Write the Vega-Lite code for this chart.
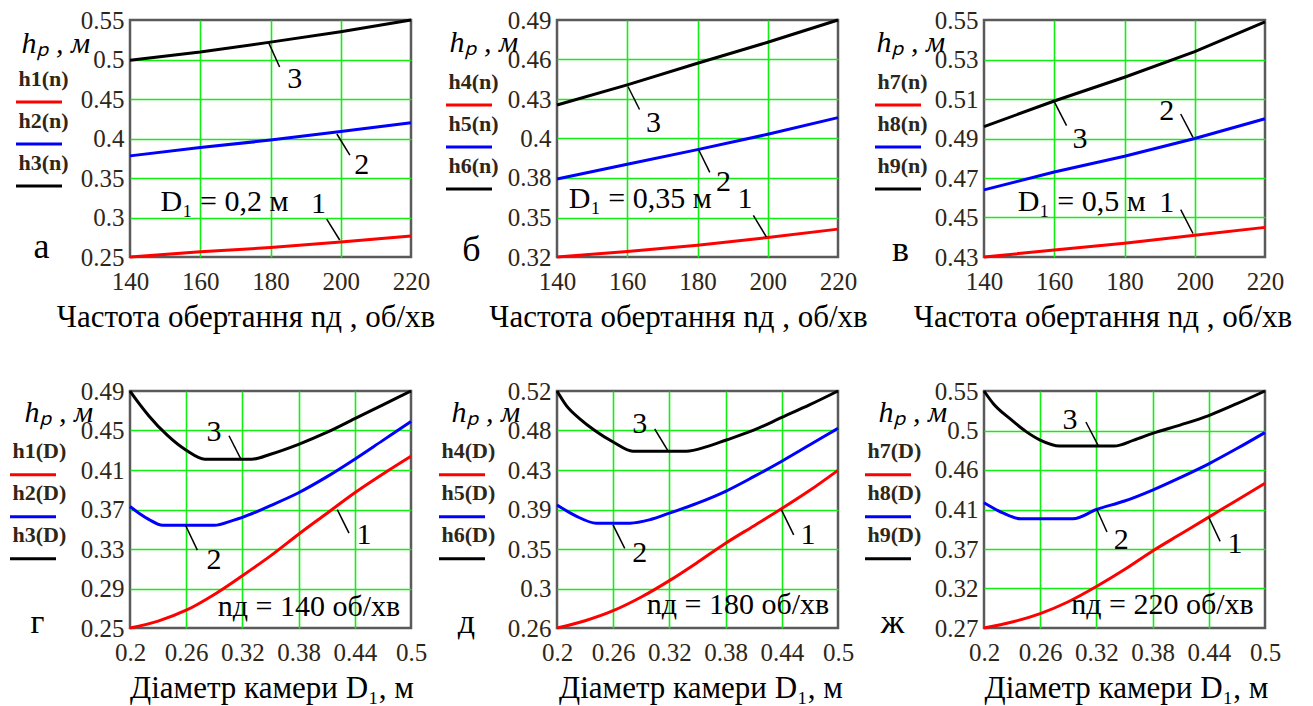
{
  "$schema": "https://vega.github.io/schema/vega-lite/v6.json",
  "background": "white",
  "padding": {"left": 7, "top": 6, "right": 0, "bottom": 0},
  "columns": 3,
  "bounds": "flush",
  "spacing": {"row": 134, "column": 146},
  "resolve": {"scale": {"color": "independent", "x": "independent", "y": "independent"}, "legend": {"color": "independent"}, "axis": {"x": "independent", "y": "independent"}},
  "config": {
    "view": {"stroke": "#5a5a5a", "strokeWidth": 2.5},
    "axis": {"grid": true, "gridColor": "#11ee11", "gridWidth": 1.6, "domain": false, "ticks": false, "tickSize": 0, "labelColor": "#2e2618", "labelFlush": false, "labelOverlap": false, "titleColor": "#000000"},
    "axisX": {"labelPadding": 12, "titleBaseline": "alphabetic", "titleAlign": "center", "titleY": 69},
    "axisY": {"labelPadding": 6, "titleAngle": 0, "titleAlign": "left", "titleBaseline": "alphabetic"},
    "legend": {"orient": "none", "symbolType": "M-1,0.5L1,0.5", "symbolSize": 2116, "symbolStrokeWidth": 3, "labelFont": "Liberation Serif", "labelFontSize": 22, "labelFontWeight": "bold", "labelColor": "#2e2618", "labelOffset": -45, "labelBaseline": "bottom", "rowPadding": 0, "padding": 0, "titleOrient": "bottom", "titleFont": "Liberation Serif", "titleFontSize": 36, "titleFontWeight": "normal", "titleColor": "#000000", "titleAnchor": "middle", "titleAlign": "center", "titlePadding": 38}
  },
  "concat": [
    {
      "width": 281, "height": 237,
      "encoding": {
        "x": {"field": "x", "type": "quantitative", "scale": {"domain": [140, 220], "nice": false, "zero": false},
          "axis": {"values": [140, 160, 180, 200, 220], "title": "Частота обертання  nд , об/хв", "titleX": 115.5,
            "labelFont": "Liberation Serif, serif", "labelFontSize": 25, "titleFont": "Liberation Serif, serif", "titleFontSize": 31, "titleFontWeight": "normal",
            "gridOpacity": {"condition": {"test": "datum.value <= 140 || datum.value >= 220", "value": 0}, "value": 1}}},
        "y": {"field": "y", "type": "quantitative", "scale": {"domain": [0.25, 0.55], "nice": false, "zero": false},
          "axis": {"values": [0.25, 0.3, 0.35, 0.4, 0.45, 0.5, 0.55], "labelExpr": "['0.25','0.3','0.35','0.4','0.45','0.5','0.55'][round((datum.value-0.25)/0.05)]", "title": "hₚ , м", "titleX": -109, "titleY": 32,
            "labelFont": "Liberation Serif, serif", "labelFontSize": 25, "titleFont": "Liberation Serif, serif", "titleFontSize": 30, "titleFontWeight": "normal", "titleFontStyle": "italic",
            "gridOpacity": {"condition": {"test": "datum.value <= 0.2501 || datum.value >= 0.5499", "value": 0}, "value": 1}}}
      },
      "layer": [
        {
          "data": {"values": [
            {"x": 140, "y": 0.25, "s": "h1(n)"}, {"x": 160, "y": 0.2565, "s": "h1(n)"}, {"x": 180, "y": 0.262, "s": "h1(n)"}, {"x": 200, "y": 0.269, "s": "h1(n)"}, {"x": 220, "y": 0.2765, "s": "h1(n)"},
            {"x": 140, "y": 0.378, "s": "h2(n)"}, {"x": 160, "y": 0.3885, "s": "h2(n)"}, {"x": 180, "y": 0.398, "s": "h2(n)"}, {"x": 200, "y": 0.409, "s": "h2(n)"}, {"x": 220, "y": 0.42, "s": "h2(n)"},
            {"x": 140, "y": 0.499, "s": "h3(n)"}, {"x": 160, "y": 0.5095, "s": "h3(n)"}, {"x": 180, "y": 0.522, "s": "h3(n)"}, {"x": 200, "y": 0.535, "s": "h3(n)"}, {"x": 220, "y": 0.55, "s": "h3(n)"}
          ]},
          "mark": {"type": "line", "strokeWidth": 3},
          "encoding": {"color": {"field": "s", "type": "nominal", "scale": {"domain": ["h1(n)", "h2(n)", "h3(n)"], "range": ["#ff0000", "#0000ff", "#000000"]},
            "legend": {"title": "а", "legendX": -115.5, "legendY": 46}}}
        },
        {
          "data": {"values": [
            {"x": 179.4, "y": 0.522, "x2": 182.6, "y2": 0.4905},
            {"x": 198.9, "y": 0.4057, "x2": 202.6, "y2": 0.379},
            {"x": 196, "y": 0.298, "x2": 199.7, "y2": 0.2715}
          ]},
          "mark": {"type": "rule", "strokeWidth": 1.5, "color": "#000000"},
          "encoding": {"x2": {"field": "x2"}, "y2": {"field": "y2"}}
        },
        {
          "data": {"values": [
            {"x": 186.9, "y": 0.475, "t": "3"},
            {"x": 206, "y": 0.3665, "t": "2"},
            {"x": 193.7, "y": 0.317, "t": "1"},
            {"x": 166.9, "y": 0.3196, "t": "D₁ = 0,2 м"}
          ]},
          "mark": {"type": "text", "font": "Liberation Serif", "fontSize": 30, "color": "#000000", "align": "center", "baseline": "middle"},
          "encoding": {"text": {"field": "t"}}
        }
      ]
    },
    {
      "width": 281, "height": 237,
      "encoding": {
        "x": {"field": "x", "type": "quantitative", "scale": {"domain": [140, 220], "nice": false, "zero": false},
          "axis": {"values": [140, 160, 180, 200, 220], "title": "Частота обертання  nд , об/хв", "titleX": 121,
            "labelFont": "Liberation Serif, serif", "labelFontSize": 25, "titleFont": "Liberation Serif, serif", "titleFontSize": 31, "titleFontWeight": "normal",
            "gridOpacity": {"condition": {"test": "datum.value <= 140 || datum.value >= 220", "value": 0}, "value": 1}}},
        "y": {"field": "y", "type": "quantitative", "scale": {"domain": [0.32, 0.49], "nice": false, "zero": false},
          "axis": {"values": [0.32, 0.3483333, 0.3766667, 0.405, 0.4333333, 0.4616667, 0.49], "labelExpr": "['0.32','0.35','0.38','0.4','0.43','0.46','0.49'][round((datum.value-0.32)/0.0283333)]", "title": "hₚ , м", "titleX": -108, "titleY": 31,
            "labelFont": "Liberation Serif, serif", "labelFontSize": 25, "titleFont": "Liberation Serif, serif", "titleFontSize": 30, "titleFontWeight": "normal", "titleFontStyle": "italic",
            "gridOpacity": {"condition": {"test": "datum.value <= 0.3201 || datum.value >= 0.4899", "value": 0}, "value": 1}}}
      },
      "layer": [
        {
          "data": {"values": [
            {"x": 140, "y": 0.32, "s": "h4(n)"}, {"x": 160, "y": 0.324, "s": "h4(n)"}, {"x": 180, "y": 0.3285, "s": "h4(n)"}, {"x": 200, "y": 0.334, "s": "h4(n)"}, {"x": 220, "y": 0.34, "s": "h4(n)"},
            {"x": 140, "y": 0.376, "s": "h5(n)"}, {"x": 160, "y": 0.3865, "s": "h5(n)"}, {"x": 180, "y": 0.397, "s": "h5(n)"}, {"x": 200, "y": 0.408, "s": "h5(n)"}, {"x": 220, "y": 0.42, "s": "h5(n)"},
            {"x": 140, "y": 0.429, "s": "h6(n)"}, {"x": 160, "y": 0.4435, "s": "h6(n)"}, {"x": 180, "y": 0.459, "s": "h6(n)"}, {"x": 200, "y": 0.474, "s": "h6(n)"}, {"x": 220, "y": 0.49, "s": "h6(n)"}
          ]},
          "mark": {"type": "line", "strokeWidth": 3},
          "encoding": {"color": {"field": "s", "type": "nominal", "scale": {"domain": ["h4(n)", "h5(n)", "h6(n)"], "range": ["#ff0000", "#0000ff", "#000000"]},
            "legend": {"title": "б", "legendX": -112.5, "legendY": 49}}}
        },
        {
          "data": {"values": [
            {"x": 160.2, "y": 0.4423, "x2": 163.5, "y2": 0.4258},
            {"x": 180.4, "y": 0.3966, "x2": 183.5, "y2": 0.3807},
            {"x": 195.9, "y": 0.3499, "x2": 199.6, "y2": 0.3344}
          ]},
          "mark": {"type": "rule", "strokeWidth": 1.5, "color": "#000000"},
          "encoding": {"x2": {"field": "x2"}, "y2": {"field": "y2"}}
        },
        {
          "data": {"values": [
            {"x": 167.5, "y": 0.4163, "t": "3"},
            {"x": 187.4, "y": 0.3736, "t": "2"},
            {"x": 193.5, "y": 0.3617, "t": "1"},
            {"x": 163.7, "y": 0.3617, "t": "D₁ = 0,35 м"}
          ]},
          "mark": {"type": "text", "font": "Liberation Serif", "fontSize": 30, "color": "#000000", "align": "center", "baseline": "middle"},
          "encoding": {"text": {"field": "t"}}
        }
      ]
    },
    {
      "width": 281, "height": 237,
      "encoding": {
        "x": {"field": "x", "type": "quantitative", "scale": {"domain": [140, 220], "nice": false, "zero": false},
          "axis": {"values": [140, 160, 180, 200, 220], "title": "Частота обертання  nд , об/хв", "titleX": 118.5,
            "labelFont": "Liberation Serif, serif", "labelFontSize": 25, "titleFont": "Liberation Serif, serif", "titleFontSize": 31, "titleFontWeight": "normal",
            "gridOpacity": {"condition": {"test": "datum.value <= 140 || datum.value >= 220", "value": 0}, "value": 1}}},
        "y": {"field": "y", "type": "quantitative", "scale": {"domain": [0.43, 0.55], "nice": false, "zero": false},
          "axis": {"values": [0.43, 0.45, 0.47, 0.49, 0.51, 0.53, 0.55], "labelExpr": "['0.43','0.45','0.47','0.49','0.51','0.53','0.55'][round((datum.value-0.43)/0.02)]", "title": "hₚ , м", "titleX": -108, "titleY": 31,
            "labelFont": "Liberation Serif, serif", "labelFontSize": 25, "titleFont": "Liberation Serif, serif", "titleFontSize": 30, "titleFontWeight": "normal", "titleFontStyle": "italic",
            "gridOpacity": {"condition": {"test": "datum.value <= 0.4301 || datum.value >= 0.5499", "value": 0}, "value": 1}}}
      },
      "layer": [
        {
          "data": {"values": [
            {"x": 140, "y": 0.43, "s": "h7(n)"}, {"x": 160, "y": 0.4335, "s": "h7(n)"}, {"x": 180, "y": 0.437, "s": "h7(n)"}, {"x": 200, "y": 0.441, "s": "h7(n)"}, {"x": 220, "y": 0.445, "s": "h7(n)"},
            {"x": 140, "y": 0.464, "s": "h8(n)"}, {"x": 160, "y": 0.473, "s": "h8(n)"}, {"x": 180, "y": 0.481, "s": "h8(n)"}, {"x": 200, "y": 0.49, "s": "h8(n)"}, {"x": 220, "y": 0.5, "s": "h8(n)"},
            {"x": 140, "y": 0.496, "s": "h9(n)"}, {"x": 160, "y": 0.509, "s": "h9(n)"}, {"x": 180, "y": 0.521, "s": "h9(n)"}, {"x": 200, "y": 0.534, "s": "h9(n)"}, {"x": 220, "y": 0.549, "s": "h9(n)"}
          ]},
          "mark": {"type": "line", "strokeWidth": 3},
          "encoding": {"color": {"field": "s", "type": "nominal", "scale": {"domain": ["h7(n)", "h8(n)", "h9(n)"], "range": ["#ff0000", "#0000ff", "#000000"]},
            "legend": {"title": "в", "legendX": -110.5, "legendY": 49}}}
        },
        {
          "data": {"values": [
            {"x": 160.1, "y": 0.5083, "x2": 163.5, "y2": 0.4965},
            {"x": 196, "y": 0.5024, "x2": 199.5, "y2": 0.4906},
            {"x": 196, "y": 0.454, "x2": 199.5, "y2": 0.4419}
          ]},
          "mark": {"type": "rule", "strokeWidth": 1.5, "color": "#000000"},
          "encoding": {"x2": {"field": "x2"}, "y2": {"field": "y2"}}
        },
        {
          "data": {"values": [
            {"x": 167.3, "y": 0.4898, "t": "3"},
            {"x": 192, "y": 0.5041, "t": "2"},
            {"x": 192, "y": 0.4571, "t": "1"},
            {"x": 167.8, "y": 0.4579, "t": "D₁ = 0,5 м"}
          ]},
          "mark": {"type": "text", "font": "Liberation Serif", "fontSize": 30, "color": "#000000", "align": "center", "baseline": "middle"},
          "encoding": {"text": {"field": "t"}}
        }
      ]
    },
    {
      "width": 281, "height": 237,
      "encoding": {
        "x": {"field": "x", "type": "quantitative", "scale": {"domain": [0.2, 0.5], "nice": false, "zero": false},
          "axis": {"values": [0.2, 0.26, 0.32, 0.38, 0.44, 0.5], "format": ".2~f", "title": "Діаметр камери  D₁, м", "titleX": 141.5,
            "labelFont": "Liberation Serif, serif", "labelFontSize": 25, "titleFont": "Liberation Serif, serif", "titleFontSize": 31, "titleFontWeight": "normal",
            "gridOpacity": {"condition": {"test": "datum.value <= 0.2001 || datum.value >= 0.4999", "value": 0}, "value": 1}}},
        "y": {"field": "y", "type": "quantitative", "scale": {"domain": [0.25, 0.49], "nice": false, "zero": false},
          "axis": {"values": [0.25, 0.29, 0.33, 0.37, 0.41, 0.45, 0.49], "labelExpr": "['0.25','0.29','0.33','0.37','0.41','0.45','0.49'][round((datum.value-0.25)/0.04)]", "title": "hₚ , м", "titleX": -106, "titleY": 30,
            "labelFont": "Liberation Serif, serif", "labelFontSize": 25, "titleFont": "Liberation Serif, serif", "titleFontSize": 30, "titleFontWeight": "normal", "titleFontStyle": "italic",
            "gridOpacity": {"condition": {"test": "datum.value <= 0.2501 || datum.value >= 0.4899", "value": 0}, "value": 1}}}
      },
      "layer": [
        {
          "data": {"values": [
            {"x": 0.2, "y": 0.25, "s": "h1(D)"}, {"x": 0.23, "y": 0.257, "s": "h1(D)"}, {"x": 0.26, "y": 0.268, "s": "h1(D)"}, {"x": 0.29, "y": 0.284, "s": "h1(D)"}, {"x": 0.32, "y": 0.303, "s": "h1(D)"}, {"x": 0.35, "y": 0.323, "s": "h1(D)"}, {"x": 0.38, "y": 0.345, "s": "h1(D)"}, {"x": 0.41, "y": 0.366, "s": "h1(D)"}, {"x": 0.44, "y": 0.387, "s": "h1(D)"}, {"x": 0.47, "y": 0.406, "s": "h1(D)"}, {"x": 0.5, "y": 0.424, "s": "h1(D)"},
            {"x": 0.2, "y": 0.373, "s": "h2(D)"}, {"x": 0.21, "y": 0.366, "s": "h2(D)"}, {"x": 0.22, "y": 0.36, "s": "h2(D)"}, {"x": 0.235, "y": 0.354, "s": "h2(D)"}, {"x": 0.29, "y": 0.354, "s": "h2(D)"}, {"x": 0.31, "y": 0.359, "s": "h2(D)"}, {"x": 0.32, "y": 0.362, "s": "h2(D)"}, {"x": 0.35, "y": 0.374, "s": "h2(D)"}, {"x": 0.38, "y": 0.387, "s": "h2(D)"}, {"x": 0.41, "y": 0.403, "s": "h2(D)"}, {"x": 0.44, "y": 0.421, "s": "h2(D)"}, {"x": 0.47, "y": 0.44, "s": "h2(D)"}, {"x": 0.5, "y": 0.459, "s": "h2(D)"},
            {"x": 0.2, "y": 0.49, "s": "h3(D)"}, {"x": 0.21, "y": 0.477, "s": "h3(D)"}, {"x": 0.22, "y": 0.465, "s": "h3(D)"}, {"x": 0.24, "y": 0.445, "s": "h3(D)"}, {"x": 0.26, "y": 0.43, "s": "h3(D)"}, {"x": 0.28, "y": 0.421, "s": "h3(D)"}, {"x": 0.33, "y": 0.421, "s": "h3(D)"}, {"x": 0.35, "y": 0.426, "s": "h3(D)"}, {"x": 0.38, "y": 0.436, "s": "h3(D)"}, {"x": 0.41, "y": 0.448, "s": "h3(D)"}, {"x": 0.44, "y": 0.462, "s": "h3(D)"}, {"x": 0.47, "y": 0.476, "s": "h3(D)"}, {"x": 0.5, "y": 0.49, "s": "h3(D)"}
          ]},
          "mark": {"type": "line", "strokeWidth": 3, "interpolate": "monotone"},
          "encoding": {"color": {"field": "s", "type": "nominal", "scale": {"domain": ["h1(D)", "h2(D)", "h3(D)"], "range": ["#ff0000", "#0000ff", "#000000"]},
            "legend": {"title": "г", "legendX": -121.5, "legendY": 47.7, "titleFontSize": 34, "titlePadding": 41}}}
        },
        {
          "data": {"values": [
            {"x": 0.3057, "y": 0.4447, "x2": 0.3188, "y2": 0.4202},
            {"x": 0.2594, "y": 0.3538, "x2": 0.2719, "y2": 0.3289},
            {"x": 0.4213, "y": 0.3698, "x2": 0.4338, "y2": 0.346}
          ]},
          "mark": {"type": "rule", "strokeWidth": 1.5, "color": "#000000"},
          "encoding": {"x2": {"field": "x2"}, "y2": {"field": "y2"}}
        },
        {
          "data": {"values": [
            {"x": 0.2897, "y": 0.4481, "t": "3"},
            {"x": 0.2897, "y": 0.3187, "t": "2"},
            {"x": 0.4498, "y": 0.3443, "t": "1"},
            {"x": 0.3911, "y": 0.2711, "t": "nд = 140 об/хв"}
          ]},
          "mark": {"type": "text", "font": "Liberation Serif", "fontSize": 30, "color": "#000000", "align": "center", "baseline": "middle"},
          "encoding": {"text": {"field": "t"}}
        }
      ]
    },
    {
      "width": 281, "height": 237,
      "encoding": {
        "x": {"field": "x", "type": "quantitative", "scale": {"domain": [0.2, 0.5], "nice": false, "zero": false},
          "axis": {"values": [0.2, 0.26, 0.32, 0.38, 0.44, 0.5], "format": ".2~f", "title": "Діаметр камери  D₁, м", "titleX": 143.5,
            "labelFont": "Liberation Serif, serif", "labelFontSize": 25, "titleFont": "Liberation Serif, serif", "titleFontSize": 31, "titleFontWeight": "normal",
            "gridOpacity": {"condition": {"test": "datum.value <= 0.2001 || datum.value >= 0.4999", "value": 0}, "value": 1}}},
        "y": {"field": "y", "type": "quantitative", "scale": {"domain": [0.26, 0.52], "nice": false, "zero": false},
          "axis": {"values": [0.26, 0.3033333, 0.3466667, 0.39, 0.4333333, 0.4766667, 0.52], "labelExpr": "['0.26','0.3','0.35','0.39','0.43','0.48','0.52'][round((datum.value-0.26)/0.0433333)]", "title": "hₚ , м", "titleX": -106, "titleY": 30,
            "labelFont": "Liberation Serif, serif", "labelFontSize": 25, "titleFont": "Liberation Serif, serif", "titleFontSize": 30, "titleFontWeight": "normal", "titleFontStyle": "italic",
            "gridOpacity": {"condition": {"test": "datum.value <= 0.2601 || datum.value >= 0.5199", "value": 0}, "value": 1}}}
      },
      "layer": [
        {
          "data": {"values": [
            {"x": 0.2, "y": 0.26, "s": "h4(D)"}, {"x": 0.23, "y": 0.268, "s": "h4(D)"}, {"x": 0.26, "y": 0.279, "s": "h4(D)"}, {"x": 0.29, "y": 0.294, "s": "h4(D)"}, {"x": 0.32, "y": 0.312, "s": "h4(D)"}, {"x": 0.35, "y": 0.332, "s": "h4(D)"}, {"x": 0.38, "y": 0.353, "s": "h4(D)"}, {"x": 0.41, "y": 0.372, "s": "h4(D)"}, {"x": 0.44, "y": 0.391, "s": "h4(D)"}, {"x": 0.47, "y": 0.411, "s": "h4(D)"}, {"x": 0.5, "y": 0.433, "s": "h4(D)"},
            {"x": 0.2, "y": 0.395, "s": "h5(D)"}, {"x": 0.22, "y": 0.383, "s": "h5(D)"}, {"x": 0.242, "y": 0.375, "s": "h5(D)"}, {"x": 0.278, "y": 0.375, "s": "h5(D)"}, {"x": 0.3, "y": 0.379, "s": "h5(D)"}, {"x": 0.32, "y": 0.386, "s": "h5(D)"}, {"x": 0.35, "y": 0.397, "s": "h5(D)"}, {"x": 0.38, "y": 0.41, "s": "h5(D)"}, {"x": 0.41, "y": 0.426, "s": "h5(D)"}, {"x": 0.44, "y": 0.443, "s": "h5(D)"}, {"x": 0.47, "y": 0.461, "s": "h5(D)"}, {"x": 0.5, "y": 0.479, "s": "h5(D)"},
            {"x": 0.2, "y": 0.52, "s": "h6(D)"}, {"x": 0.21, "y": 0.504, "s": "h6(D)"}, {"x": 0.225, "y": 0.489, "s": "h6(D)"}, {"x": 0.24, "y": 0.477, "s": "h6(D)"}, {"x": 0.26, "y": 0.464, "s": "h6(D)"}, {"x": 0.281, "y": 0.454, "s": "h6(D)"}, {"x": 0.338, "y": 0.454, "s": "h6(D)"}, {"x": 0.36, "y": 0.459, "s": "h6(D)"}, {"x": 0.38, "y": 0.466, "s": "h6(D)"}, {"x": 0.41, "y": 0.477, "s": "h6(D)"}, {"x": 0.44, "y": 0.491, "s": "h6(D)"}, {"x": 0.47, "y": 0.505, "s": "h6(D)"}, {"x": 0.5, "y": 0.52, "s": "h6(D)"}
          ]},
          "mark": {"type": "line", "strokeWidth": 3, "interpolate": "monotone"},
          "encoding": {"color": {"field": "s", "type": "nominal", "scale": {"domain": ["h4(D)", "h5(D)", "h6(D)"], "range": ["#ff0000", "#0000ff", "#000000"]},
            "legend": {"title": "д", "legendX": -119.5, "legendY": 47.7, "titleFontSize": 34, "titlePadding": 41}}}
        },
        {
          "data": {"values": [
            {"x": 0.3043, "y": 0.4783, "x2": 0.3185, "y2": 0.4544},
            {"x": 0.2598, "y": 0.3732, "x2": 0.2723, "y2": 0.3474},
            {"x": 0.4395, "y": 0.3898, "x2": 0.4527, "y2": 0.3621}
          ]},
          "mark": {"type": "rule", "strokeWidth": 1.5, "color": "#000000"},
          "encoding": {"x2": {"field": "x2"}, "y2": {"field": "y2"}}
        },
        {
          "data": {"values": [
            {"x": 0.2883, "y": 0.4838, "t": "3"},
            {"x": 0.2883, "y": 0.3419, "t": "2"},
            {"x": 0.468, "y": 0.3621, "t": "1"},
            {"x": 0.3932, "y": 0.2847, "t": "nд = 180 об/хв"}
          ]},
          "mark": {"type": "text", "font": "Liberation Serif", "fontSize": 30, "color": "#000000", "align": "center", "baseline": "middle"},
          "encoding": {"text": {"field": "t"}}
        }
      ]
    },
    {
      "width": 281, "height": 237,
      "encoding": {
        "x": {"field": "x", "type": "quantitative", "scale": {"domain": [0.2, 0.5], "nice": false, "zero": false},
          "axis": {"values": [0.2, 0.26, 0.32, 0.38, 0.44, 0.5], "format": ".2~f", "title": "Діаметр камери  D₁, м", "titleX": 142,
            "labelFont": "Liberation Serif, serif", "labelFontSize": 25, "titleFont": "Liberation Serif, serif", "titleFontSize": 31, "titleFontWeight": "normal",
            "gridOpacity": {"condition": {"test": "datum.value <= 0.2001 || datum.value >= 0.4999", "value": 0}, "value": 1}}},
        "y": {"field": "y", "type": "quantitative", "scale": {"domain": [0.27, 0.55], "nice": false, "zero": false},
          "axis": {"values": [0.27, 0.3166667, 0.3633333, 0.41, 0.4566667, 0.5033333, 0.55], "labelExpr": "['0.27','0.32','0.37','0.41','0.46','0.5','0.55'][round((datum.value-0.27)/0.0466667)]", "title": "hₚ , м", "titleX": -106, "titleY": 30,
            "labelFont": "Liberation Serif, serif", "labelFontSize": 25, "titleFont": "Liberation Serif, serif", "titleFontSize": 30, "titleFontWeight": "normal", "titleFontStyle": "italic",
            "gridOpacity": {"condition": {"test": "datum.value <= 0.2701 || datum.value >= 0.5499", "value": 0}, "value": 1}}}
      },
      "layer": [
        {
          "data": {"values": [
            {"x": 0.2, "y": 0.27, "s": "h7(D)"}, {"x": 0.23, "y": 0.277, "s": "h7(D)"}, {"x": 0.26, "y": 0.287, "s": "h7(D)"}, {"x": 0.29, "y": 0.301, "s": "h7(D)"}, {"x": 0.32, "y": 0.319, "s": "h7(D)"}, {"x": 0.35, "y": 0.339, "s": "h7(D)"}, {"x": 0.38, "y": 0.361, "s": "h7(D)"}, {"x": 0.41, "y": 0.381, "s": "h7(D)"}, {"x": 0.44, "y": 0.401, "s": "h7(D)"}, {"x": 0.47, "y": 0.421, "s": "h7(D)"}, {"x": 0.5, "y": 0.441, "s": "h7(D)"},
            {"x": 0.2, "y": 0.418, "s": "h8(D)"}, {"x": 0.22, "y": 0.406, "s": "h8(D)"}, {"x": 0.239, "y": 0.399, "s": "h8(D)"}, {"x": 0.295, "y": 0.399, "s": "h8(D)"}, {"x": 0.32, "y": 0.41, "s": "h8(D)"}, {"x": 0.35, "y": 0.42, "s": "h8(D)"}, {"x": 0.38, "y": 0.433, "s": "h8(D)"}, {"x": 0.41, "y": 0.448, "s": "h8(D)"}, {"x": 0.44, "y": 0.464, "s": "h8(D)"}, {"x": 0.47, "y": 0.482, "s": "h8(D)"}, {"x": 0.5, "y": 0.501, "s": "h8(D)"},
            {"x": 0.2, "y": 0.55, "s": "h9(D)"}, {"x": 0.21, "y": 0.535, "s": "h9(D)"}, {"x": 0.228, "y": 0.517, "s": "h9(D)"}, {"x": 0.245, "y": 0.502, "s": "h9(D)"}, {"x": 0.26, "y": 0.492, "s": "h9(D)"}, {"x": 0.281, "y": 0.485, "s": "h9(D)"}, {"x": 0.339, "y": 0.485, "s": "h9(D)"}, {"x": 0.36, "y": 0.492, "s": "h9(D)"}, {"x": 0.38, "y": 0.5, "s": "h9(D)"}, {"x": 0.41, "y": 0.51, "s": "h9(D)"}, {"x": 0.44, "y": 0.521, "s": "h9(D)"}, {"x": 0.47, "y": 0.535, "s": "h9(D)"}, {"x": 0.5, "y": 0.55, "s": "h9(D)"}
          ]},
          "mark": {"type": "line", "strokeWidth": 3, "interpolate": "monotone"},
          "encoding": {"color": {"field": "s", "type": "nominal", "scale": {"domain": ["h7(D)", "h8(D)", "h9(D)"], "range": ["#ff0000", "#0000ff", "#000000"]},
            "legend": {"title": "ж", "legendX": -120.5, "legendY": 47.7, "titleFontSize": 34, "titlePadding": 41}}}
        },
        {
          "data": {"values": [
            {"x": 0.3088, "y": 0.5134, "x2": 0.3218, "y2": 0.4858},
            {"x": 0.3201, "y": 0.4109, "x2": 0.3313, "y2": 0.3834},
            {"x": 0.4398, "y": 0.4011, "x2": 0.4521, "y2": 0.3724}
          ]},
          "mark": {"type": "rule", "strokeWidth": 1.5, "color": "#000000"},
          "encoding": {"x2": {"field": "x2"}, "y2": {"field": "y2"}}
        },
        {
          "data": {"values": [
            {"x": 0.2919, "y": 0.5154, "t": "3"},
            {"x": 0.3465, "y": 0.3736, "t": "2"},
            {"x": 0.468, "y": 0.3696, "t": "1"},
            {"x": 0.3905, "y": 0.2968, "t": "nд = 220 об/хв"}
          ]},
          "mark": {"type": "text", "font": "Liberation Serif", "fontSize": 30, "color": "#000000", "align": "center", "baseline": "middle"},
          "encoding": {"text": {"field": "t"}}
        }
      ]
    }
  ]
}
